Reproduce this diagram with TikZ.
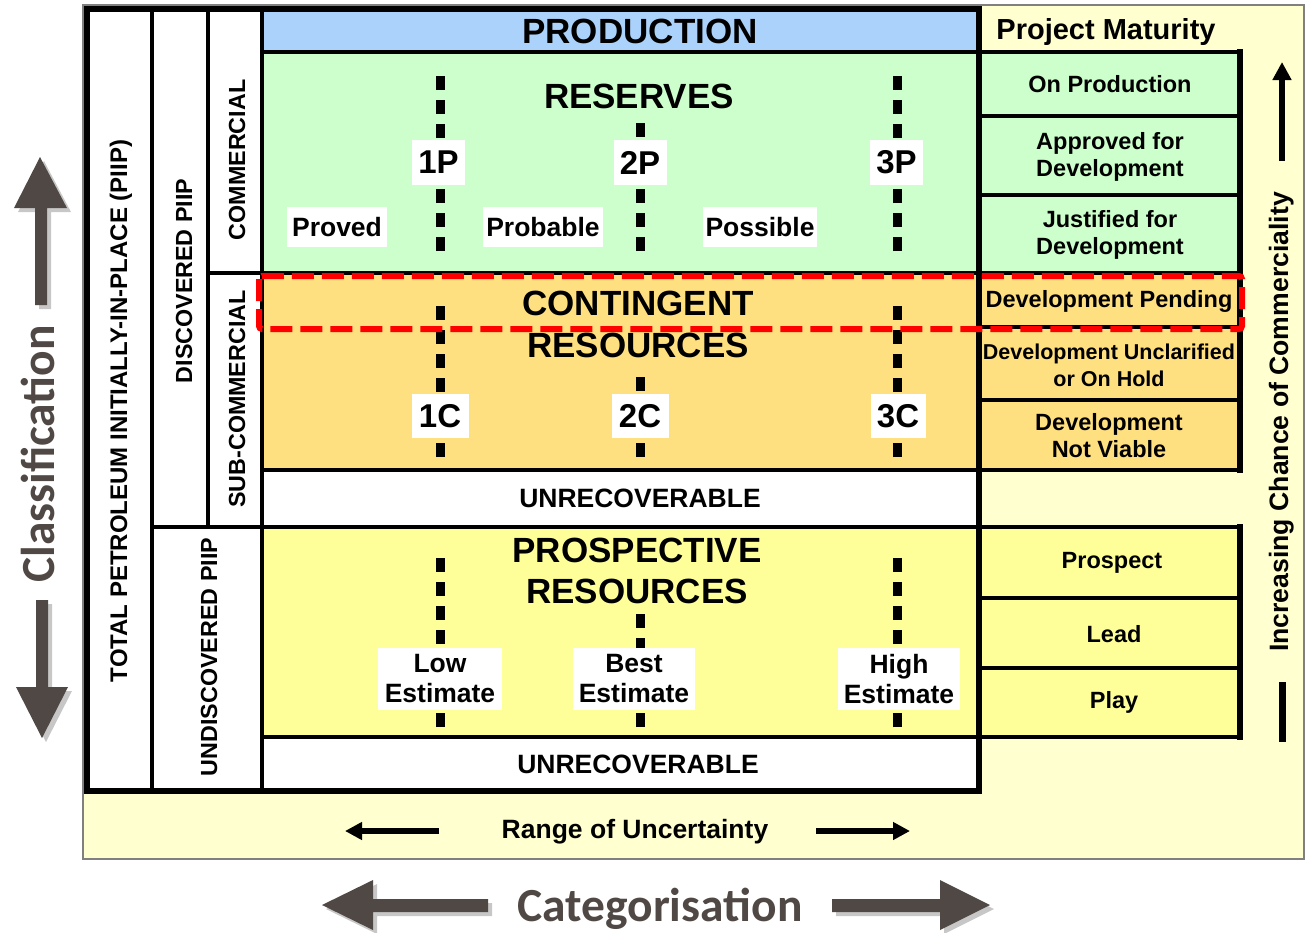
\documentclass[tikz,border=0pt]{standalone}
\usepackage{fontspec}
\setmainfont{Liberation Sans}
\newfontfamily\calib{Carlito}
\usetikzlibrary{arrows.meta}
\definecolor{prodblue}{RGB}{170,210,250}
\definecolor{resgreen}{RGB}{204,255,204}
\definecolor{contorange}{RGB}{255,224,128}
\definecolor{prosyellow}{RGB}{255,255,153}
\definecolor{panel}{RGB}{255,255,208}
\definecolor{panelborder}{RGB}{128,128,128}
\definecolor{arrgray}{RGB}{80,72,68}
\tikzset{
  big/.style={font=\bfseries\fontsize{35}{40}\selectfont},
  num/.style={font=\bfseries\fontsize{33}{36}\selectfont, fill=white, inner sep=0pt},
  mid/.style={font=\bfseries\fontsize{26.5}{30}\selectfont},
  wlab/.style={mid, fill=white, inner sep=0pt, align=center},
  side/.style={font=\bfseries\fontsize{23.3}{27}\selectfont, rotate=90, anchor=base},
  rcol/.style={font=\bfseries\fontsize{23.5}{27}\selectfont, align=center, anchor=base},
  dotl/.style={line width=9pt, dash pattern=on 14pt off 10pt},
  frm/.style={line width=6pt, line cap=rect},
  inl/.style={line width=4.5pt, line cap=rect},
  bigarrow/.style={fill=arrgray},
  arrshadow/.style={fill=black, opacity=0.22},
  class/.style={font=\calib\bfseries\fontsize{47.5}{52}\selectfont, text=arrgray},
}
\begin{document}
\begin{tikzpicture}[x=1pt,y=-1pt]
\useasboundingbox (0,0) rectangle (1306,932);
\fill[white] (0,0) rectangle (1306,932);
% background panel
\draw[draw=panelborder, line width=2pt, fill=panel] (83,5) rectangle (1304,859);
% region fills
\fill[white] (87,9) rectangle (262,791);
\fill[prodblue] (262,9) rectangle (979,52);
\fill[resgreen] (262,52) rectangle (979,273);
\fill[contorange] (262,273) rectangle (979,470);
\fill[white] (262,470) rectangle (979,527);
\fill[prosyellow] (262,527) rectangle (979,737);
\fill[white] (262,737) rectangle (979,791);
\fill[resgreen] (979,52) rectangle (1240,273);
\fill[contorange] (979,273) rectangle (1240,470);
\fill[prosyellow] (979,527) rectangle (1240,737);
% grid
\draw[frm] (87,9) rectangle (979,791);
\draw[inl] (152,9) -- (152,791);
\draw[inl] (208,9) -- (208,527);
\draw[inl] (262,9) -- (262,791);
\draw[inl] (262,52) -- (1240,52);
\draw[inl] (208,273) -- (1240,273);
\draw[inl] (262,470) -- (1240,470);
\draw[inl] (152,527) -- (1240,527);
\draw[inl] (262,737) -- (1240,737);
\draw[inl] (979,116) -- (1240,116);
\draw[inl] (979,195) -- (1240,195);
\draw[inl] (979,327) -- (1240,327);
\draw[inl] (979,400) -- (1240,400);
\draw[inl] (979,598) -- (1240,598);
\draw[inl] (979,668) -- (1240,668);
\draw[frm] (1240,52) -- (1240,470);
\draw[frm] (1240,527) -- (1240,737);

% rotated left labels
\node[side, font=\bfseries\fontsize{24}{27}\selectfont] (piip) at (127,411) {TOTAL PETROLEUM INITIALLY-IN-PLACE (PIIP)};
\node[side] (disc) at (192,281) {DISCOVERED PIIP};
\node[side] (comm) at (245,160) {COMMERCIAL};
\node[side] (subc) at (245,399) {SUB-COMMERCIAL};
\node[side] (undisc) at (217,657) {UNDISCOVERED PIIP};

% main titles
\node[big, anchor=base] (prod) at (640,43) {PRODUCTION};
\node[big, anchor=base] (res) at (639,108) {RESERVES};
\node[big, anchor=base] (cont) at (638,315) {CONTINGENT};
\node[big, anchor=base] (cres) at (638,357) {RESOURCES};
\node[big, anchor=base] (pros) at (637,562) {PROSPECTIVE};
\node[big, anchor=base] (pres) at (637,603) {RESOURCES};
\node[mid, anchor=base] (unrec1) at (640,507) {UNRECOVERABLE};
\node[mid, anchor=base] (unrec2) at (638,773) {UNRECOVERABLE};

% labels on the uncertainty lines
\node[num, minimum width=53pt, minimum height=45pt] (n1p) at (438.5,162.5) {1P};
\node[num, minimum width=53pt, minimum height=45pt] (n2p) at (640,162.5) {2P};
\node[num, minimum width=53pt, minimum height=45pt] (n3p) at (896.5,162.5) {3P};
\node[num, minimum width=57pt, minimum height=44pt] (n1c) at (440,416) {1C};
\node[num, minimum width=57pt, minimum height=44pt] (n2c) at (640,416) {2C};
\node[num, minimum width=55pt, minimum height=44pt] (n3c) at (898,416) {3C};
\node[wlab, minimum width=124pt, minimum height=62pt] (low) at (440,679) {Low\\Estimate};
\node[wlab, minimum width=122pt, minimum height=62pt] (best) at (634,679) {Best\\Estimate};
\node[wlab, minimum width=122pt, minimum height=62pt] (high) at (899,679) {High\\Estimate};
\node[wlab, minimum width=100pt, minimum height=40pt] (proved) at (337,227) {Proved};
\node[wlab, minimum width=120pt, minimum height=40pt] (probable) at (543,227) {Probable};
\node[wlab, minimum width=114pt, minimum height=40pt] (possible) at (760,227) {Possible};

% dotted uncertainty lines: end points
\coordinate (p1t) at (440,76);  \coordinate (p1b) at (440,251);
\coordinate (p2t) at (640,123); \coordinate (p2b) at (640,251);
\coordinate (p3t) at (897,76);  \coordinate (p3b) at (897,251);
\coordinate (c1t) at (440,306); \coordinate (c1b) at (440,457);
\coordinate (c2t) at (640,377); \coordinate (c2b) at (640,457);
\coordinate (c3t) at (897,306); \coordinate (c3b) at (897,457);
\coordinate (l1t) at (440,558); \coordinate (l1b) at (440,727);
\coordinate (l2t) at (640,614); \coordinate (l2b) at (640,727);
\coordinate (l3t) at (897,558); \coordinate (l3b) at (897,727);
\draw[dotl] (p1t) -- (p1t |- n1p.north);  \draw[dotl] (p1b) -- (p1b |- n1p.south);
\draw[dotl] (p2t) -- (p2t |- n2p.north);  \draw[dotl] (p2b) -- (p2b |- n2p.south);
\draw[dotl] (p3t) -- (p3t |- n3p.north);  \draw[dotl] (p3b) -- (p3b |- n3p.south);
\draw[dotl] (c1t) -- (c1t |- n1c.north);  \draw[dotl] (c1b) -- (c1b |- n1c.south);
\draw[dotl] (c2t) -- (c2t |- n2c.north);  \draw[dotl] (c2b) -- (c2b |- n2c.south);
\draw[dotl] (c3t) -- (c3t |- n3c.north);  \draw[dotl] (c3b) -- (c3b |- n3c.south);
\draw[dotl] (l1t) -- (l1t |- low.north);  \draw[dotl] (l1b) -- (l1b |- low.south);
\draw[dotl] (l2t) -- (l2t |- best.north); \draw[dotl] (l2b) -- (l2b |- best.south);
\draw[dotl] (l3t) -- (l3t |- high.north); \draw[dotl] (l3b) -- (l3b |- high.south);

% right column
\node[font=\bfseries\fontsize{29}{33}\selectfont, anchor=base] (pm) at (1106,39) {Project Maturity};
\node[rcol] (onp) at (1110,92) {On Production};
\node[rcol] (appr) at (1110,176) {Approved for\\Development};
\node[rcol] (just) at (1110,254) {Justified for\\Development};
\node[rcol] (pend) at (1109,307) {Development Pending};
\node[rcol, font=\bfseries\fontsize{21.5}{27}\selectfont] (uncl) at (1109,386) {Development Unclarified\\or On Hold};
\node[rcol] (notv) at (1109,457) {Development\\Not Viable};
\node[rcol] (prospect) at (1112,568) {Prospect};
\node[rcol] (lead) at (1114,642) {Lead};
\node[rcol] (play) at (1114,708) {Play};

% red dashed highlight
\draw[red, line width=6pt, dash pattern=on 22pt off 8pt, rounded corners=3pt] (259,276) rectangle (1242,329);

% increasing chance
\node[font=\bfseries\fontsize{26.6}{30}\selectfont, rotate=90, anchor=base] (incr) at (1288,422) {Increasing Chance of Commerciality};
\coordinate (ia1) at (1282,161); \coordinate (ia2) at (1282,62);
\draw[line width=6pt, -{Triangle[length=18pt,width=18pt]}] (ia1) -- (ia2);
\coordinate (ib1) at (1282,682); \coordinate (ib2) at (1282,742);
\draw[line width=7pt] (ib1) -- (ib2);

% range of uncertainty
\node[mid, anchor=base] (range) at (635,838) {Range of Uncertainty};
\coordinate (rl1) at (439,831); \coordinate (rl2) at (345,831);
\coordinate (rr1) at (816,831); \coordinate (rr2) at (910,831);
\draw[line width=6pt, -{Triangle[length=17pt,width=17pt]}] (rl1) -- (rl2);
\draw[line width=6pt, -{Triangle[length=17pt,width=17pt]}] (rr1) -- (rr2);

% Classification / Categorisation arrows (with soft shadow)
\begin{scope}[shift={(4,4)}]
\path[arrshadow] (35,305) -- (35,208) -- (14,208) -- (40,157) -- (67,208) -- (47,208) -- (47,305) -- cycle;
\path[arrshadow] (36,600) -- (36,687) -- (16,687) -- (42,738) -- (68,687) -- (48,687) -- (48,600) -- cycle;
\path[arrshadow] (488,899) -- (373,899) -- (373,880) -- (322,905) -- (373,930) -- (373,912) -- (488,912) -- cycle;
\path[arrshadow] (832,899) -- (940,899) -- (940,880) -- (990,905) -- (940,930) -- (940,912) -- (832,912) -- cycle;
\end{scope}
\path[bigarrow] (35,305) -- (35,208) -- (14,208) -- (40,157) -- (67,208) -- (47,208) -- (47,305) -- cycle;
\path[bigarrow] (36,600) -- (36,687) -- (16,687) -- (42,738) -- (68,687) -- (48,687) -- (48,600) -- cycle;
\path[bigarrow] (488,899) -- (373,899) -- (373,880) -- (322,905) -- (373,930) -- (373,912) -- (488,912) -- cycle;
\path[bigarrow] (832,899) -- (940,899) -- (940,880) -- (990,905) -- (940,930) -- (940,912) -- (832,912) -- cycle;
\node[class, rotate=90, anchor=base] (classif) at (54,454) {Classification};
\node[class, anchor=base] (categ) at (660,921) {Categorisation};
\end{tikzpicture}
\end{document}
